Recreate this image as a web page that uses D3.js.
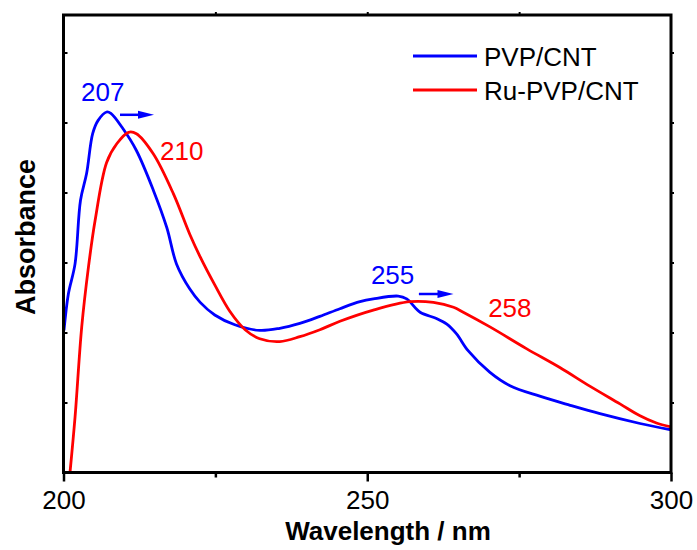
<!DOCTYPE html>
<html><head><meta charset="utf-8">
<script src="https://cdn.jsdelivr.net/npm/d3@7"></script>
<style>body{margin:0;background:#fff}text{font-family:Arial,"Liberation Sans",sans-serif}</style>
</head><body><svg id="c" width="697" height="550"></svg>
<script>
// Data (wavelength nm, absorbance arb. units)
const pvpWave = [200.08,200.8,201.9,202.8,203.8,204.8,205.7,207.1,207.8,209.8,212.0,214.8,217.0,218.6,220.8,222.5,224.9,228.2,232.3,235.6,238.9,242.2,245.5,248.8,251.0,255.1,256.5,258.7,261.4,263.1,264.7,266.6,270.2,273.5,278.4,283.4,288.3,294.9,300];
const pvpAbs  = [2.03,2.55,2.98,3.89,4.27,4.84,5.03,5.15,5.13,4.91,4.60,4.03,3.50,2.98,2.62,2.43,2.25,2.11,2.03,2.06,2.13,2.23,2.34,2.44,2.48,2.52,2.48,2.29,2.20,2.12,1.98,1.74,1.43,1.24,1.09,0.96,0.84,0.70,0.61];
const ruWave = [201.07,201.9,203.0,204.1,205.2,207.1,208.8,210.7,212.0,214.8,218.1,220.8,222.5,224.9,227.4,229.9,232.3,235.6,238.9,242.2,245.5,251.0,257.0,260.9,264.2,265.8,270.2,276.2,281.7,286.7,291.6,294.9,297.5,300];
const ruAbs  = [0.00,0.79,2.08,2.93,3.60,4.43,4.70,4.86,4.84,4.55,3.98,3.40,3.08,2.68,2.30,2.04,1.91,1.87,1.94,2.04,2.16,2.32,2.44,2.43,2.36,2.29,2.08,1.77,1.50,1.23,0.98,0.81,0.71,0.65];
const seriesNames = ["PVP/CNT","Ru-PVP/CNT"];
const seriesColors = ["#0000ff","#ff0000"];
const xTicks = [200,250,300];
const xMinorTicks = [225,275];
const yTicks = [1,2,3,4,5,6];
const peakLabels = ["207","210","255","258"];
const peakLabelWave = [202.9,215.9,250.6,269.9];
const peakLabelAbs = [5.31,4.47,2.70,2.22];
const peakLabelColor = ["#0000ff","#ff0000","#0000ff","#ff0000"];
const arrowStart = [209.3,258.5];
const arrowEnd = [214.9,264.2];
const arrowAbs = [5.11,2.55];

const svg = d3.select("#c");
const L=63.5,R=671,T=15,B=472.5;
const x = d3.scaleLinear().domain([200,300]).range([L,R]);
const y = d3.scaleLinear().domain([0,(B-T)/70]).range([B,T]);

const plot = svg.append("g");
svg.append("clipPath").attr("id","cp").append("rect").attr("x",L).attr("y",T).attr("width",R-L).attr("height",B-T);

const line = d3.line().x(d=>x(d[0])).y(d=>y(d[1])).curve(d3.curveCatmullRom.alpha(0.5));
const series = [d3.zip(pvpWave,pvpAbs), d3.zip(ruWave,ruAbs)];
plot.selectAll("path.s").data(series).join("path").attr("class","s")
  .attr("d",line).attr("fill","none").attr("stroke",(d,i)=>seriesColors[i])
  .attr("stroke-width",2.8).attr("stroke-linejoin","round").attr("clip-path","url(#cp)");

// axes
const xAxis = d3.axisBottom(x).tickValues(xTicks).tickSize(9).tickPadding(9).tickFormat(d3.format("d"));
const gx = svg.append("g").attr("transform",`translate(0,${B})`).call(xAxis);
gx.select(".domain").remove();
gx.selectAll("line").attr("stroke","#000").attr("stroke-width",2.5);
gx.selectAll("text").attr("font-size",26).attr("fill","#000").attr("font-family","Arial, 'Liberation Sans', sans-serif");
const gxm = svg.append("g").attr("transform",`translate(0,${B})`).call(d3.axisBottom(x).tickValues(xMinorTicks).tickSize(5).tickFormat(""));
gxm.select(".domain").remove();
gxm.selectAll("line").attr("stroke","#000").attr("stroke-width",2.5);
const gxt = svg.append("g").attr("transform",`translate(0,${T})`).call(d3.axisTop(x).tickValues(xMinorTicks.concat([250])).tickSize(3).tickFormat(""));
gxt.select(".domain").remove();
gxt.selectAll("line").attr("stroke","#000").attr("stroke-width",2);
const gy = svg.append("g").attr("transform",`translate(${L},0)`).call(d3.axisRight(y).tickValues(yTicks).tickSize(4).tickFormat(""));
gy.select(".domain").remove();
gy.selectAll("line").attr("stroke","#000").attr("stroke-width",2);
const gyr = svg.append("g").attr("transform",`translate(${R},0)`).call(d3.axisRight(y).tickValues(yTicks).tickSize(3).tickFormat(""));
gyr.select(".domain").remove();
gyr.selectAll("line").attr("stroke","#000").attr("stroke-width",2);

svg.append("rect").attr("x",L).attr("y",T).attr("width",R-L).attr("height",B-T)
  .attr("fill","none").attr("stroke","#000").attr("stroke-width",3);

// axis titles
svg.append("text").attr("x",388).attr("y",540).attr("text-anchor","middle")
  .attr("font-size",26).attr("font-weight","bold").text("Wavelength / nm");
svg.append("text").attr("transform","translate(35,237) rotate(-90)").attr("text-anchor","middle")
  .attr("font-size",27).attr("font-weight","bold").text("Absorbance");

// legend
const lg = svg.append("g");
seriesNames.forEach((n,i)=>{
  const yy = 56 + i*34;
  lg.append("line").attr("x1",413).attr("x2",477).attr("y1",yy).attr("y2",yy)
    .attr("stroke",seriesColors[i]).attr("stroke-width",2.8);
  lg.append("text").attr("x",484).attr("y",yy+9.5).attr("font-size",26).attr("fill","#000").text(n);
});

// peak labels
peakLabels.forEach((t,i)=>{
  svg.append("text").attr("x",x(peakLabelWave[i])).attr("y",y(peakLabelAbs[i]))
    .attr("font-size",26).attr("fill",peakLabelColor[i]).text(t);
});
// arrows
arrowStart.forEach((s,i)=>{
  const x1=x(s), x2=x(arrowEnd[i]), yy=y(arrowAbs[i]);
  svg.append("line").attr("x1",x1).attr("x2",x2-10).attr("y1",yy).attr("y2",yy)
    .attr("stroke","#0000ff").attr("stroke-width",2.5);
  svg.append("path").attr("d",`M${x2},${yy}L${x2-16},${yy-4}L${x2-16},${yy+4}Z`).attr("fill","#0000ff");
});
</script></body></html>
